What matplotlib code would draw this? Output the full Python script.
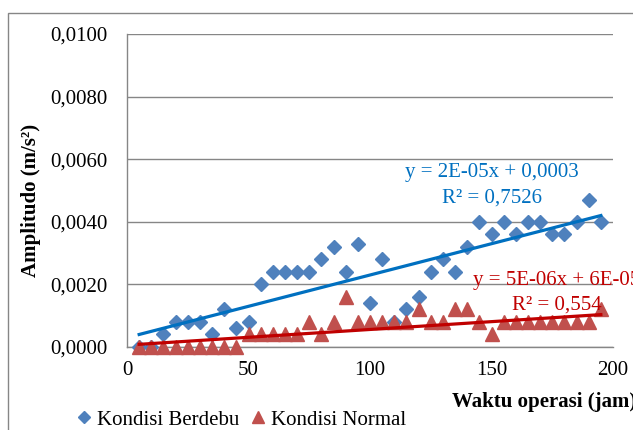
import numpy as np
import matplotlib
matplotlib.use("Agg")
import matplotlib.pyplot as plt
from matplotlib.patches import Rectangle
from matplotlib.ticker import FuncFormatter

plt.rcParams['font.family'] = ['Liberation Serif', 'DejaVu Serif']

# operating time (hours)
waktu = np.arange(5, 200, 5)

# vibration amplitude, dusty condition
berdebu = [0.0000, 0.0000, 0.0004, 0.0008, 0.0008, 0.0008, 0.0004, 0.0012, 0.0006, 0.0008,
           0.0020, 0.0024, 0.0024, 0.0024, 0.0024, 0.0028, 0.0032, 0.0024, 0.0033, 0.0014,
           0.0028, 0.0008, 0.0012, 0.0016, 0.0024, 0.0028, 0.0024, 0.0032, 0.0040, 0.0036,
           0.0040, 0.0036, 0.0040, 0.0040, 0.0036, 0.0036, 0.0040, 0.0047, 0.0040]

# vibration amplitude, normal condition
normal = [0.0000, 0.0000, 0.0000, 0.0000, 0.0000, 0.0000, 0.0000, 0.0000, 0.0000, 0.0004,
          0.0004, 0.0004, 0.0004, 0.0004, 0.0008, 0.0004, 0.0008, 0.0016, 0.0008, 0.0008,
          0.0008, 0.0008, 0.0008, 0.0012, 0.0008, 0.0008, 0.0012, 0.0012, 0.0008, 0.0004,
          0.0008, 0.0008, 0.0008, 0.0008, 0.0008, 0.0008, 0.0008, 0.0008, 0.0012]

# linear trend coefficients (slope, intercept)
trend_berdebu = (2e-05, 0.0003)
trend_normal = (5e-06, 6e-05)

x_ticks = [0, 50, 100, 150, 200]
y_ticks = [0.0, 0.002, 0.004, 0.006, 0.008, 0.010]

grey = '#868686'
c_berdebu, c_normal = '#4F81BD', '#C0504D'
c_tr_berdebu, c_tr_normal = '#0070C0', '#C00000'

fig = plt.figure(figsize=(6.33, 4.30), dpi=100)
ax = fig.add_axes([127 / 633, 83 / 430, 486 / 633, 313 / 430])

# outer chart frame
fig.patches.append(Rectangle((8 / 633, -0.1), 1.2, (417 / 430) + 0.1, transform=fig.transFigure,
                             fill=False, edgecolor=grey, lw=1.0))

ax.plot(waktu, berdebu, ls='none', marker='D', ms=7, color=c_berdebu,
        label='Kondisi Berdebu', clip_on=False, zorder=3)
ax.plot(waktu, normal, ls='none', marker='^', ms=9.5, color=c_normal,
        label='Kondisi Normal', clip_on=False, zorder=4)

xs = np.array([waktu[0], waktu[-1]])
ax.plot(xs, trend_berdebu[0] * xs + trend_berdebu[1], color=c_tr_berdebu, lw=2.3, zorder=5)
ax.plot(xs, trend_normal[0] * xs + trend_normal[1], color=c_tr_normal, lw=2.3, zorder=5)

ax.text(150, 0.00559, 'y = 2E-05x + 0,0003', color=c_tr_berdebu, fontsize=15,
        ha='center', va='center', zorder=6)
ax.text(150, 0.00476, 'R² = 0,7526', color=c_tr_berdebu, fontsize=15,
        ha='center', va='center', zorder=6)
ax.text(177, 0.00214, 'y = 5E-06x + 6E-05', color=c_tr_normal, fontsize=15,
        ha='center', va='center', clip_on=False, zorder=6)
ax.text(177, 0.00134, 'R² = 0,554', color=c_tr_normal, fontsize=15,
        ha='center', va='center', zorder=6)

ax.set_xlim(0, 200)
ax.set_ylim(0, 0.010)
ax.set_xticks(x_ticks)
ax.set_yticks(y_ticks)
ax.yaxis.set_major_formatter(FuncFormatter(lambda v, p: f'{v:.4f}'.replace('.', ',')))
ax.tick_params(axis='both', length=0, labelsize=15, colors='black')
ax.tick_params(axis='y', pad=14)
ax.tick_params(axis='x', pad=10)
ax.grid(axis='y', color=grey, lw=1.0)
ax.set_axisbelow(True)
for side in ('top', 'right'):
    ax.spines[side].set_visible(False)
for side in ('left', 'bottom'):
    ax.spines[side].set_color(grey)
    ax.spines[side].set_linewidth(1.0)

fig.text(452 / 633, 1 - 402 / 430, 'Waktu operasi (jam)', fontsize=15, fontweight='bold',
         ha='left', va='center')
fig.text(31 / 633, 1 - 200 / 430, 'Amplitudo (m/s²)', fontsize=15, fontweight='bold',
         rotation=90, ha='center', va='center')

fig.legend(loc='center left', bbox_to_anchor=(74 / 633, 1 - 420 / 430), ncol=2,
           frameon=False, fontsize=15, borderpad=0, borderaxespad=0,
           handlelength=1.0, handletextpad=0.1, columnspacing=0.4, markerscale=0.9)

fig.savefig('out.png', dpi=100)
